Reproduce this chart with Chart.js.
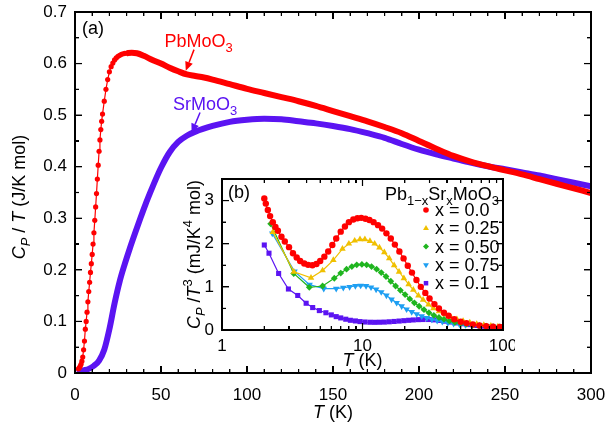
<!DOCTYPE html>
<html>
<head>
<meta charset="utf-8">
<script src="https://cdn.jsdelivr.net/npm/chart.js@4.4.0/dist/chart.umd.min.js"></script>
<style>
  html, body { margin: 0; padding: 0; background: #fff; }
  #wrap { position: relative; width: 608px; height: 430px; }
  #mainChart { position: absolute; left: 0; top: 0; }
  #insetChart { position: absolute; left: 160px; top: 170px; }
  .fr { position: absolute; background: #000; pointer-events: none; }
</style>
</head>
<body>
<div id="wrap">
  <canvas id="mainChart" width="608" height="430"></canvas>
  <canvas id="insetChart" width="355" height="200"></canvas>
</div>
<script>
// ---- main panel (a): Cp/T vs T ----
const pbLowT  = [2, 2.5, 3, 3.5, 4, 4.5, 5, 5.5, 6, 6.5, 7, 7.5, 8, 8.5, 9, 9.5, 10, 10.5, 11, 11.5, 12, 12.5, 13, 13.5, 14, 14.5, 15, 15.5, 16, 17, 18, 19, 20, 21, 22, 23, 24, 25, 26, 27, 28, 29, 30];
const pbLowCp = [0.008, 0.010, 0.013, 0.017, 0.023, 0.031, 0.045, 0.062, 0.085, 0.100, 0.118, 0.138, 0.158, 0.176, 0.195, 0.212, 0.230, 0.250, 0.272, 0.296, 0.322, 0.348, 0.376, 0.403, 0.430, 0.452, 0.472, 0.488, 0.502, 0.527, 0.550, 0.569, 0.584, 0.594, 0.601, 0.607, 0.611, 0.614, 0.616, 0.618, 0.619, 0.620, 0.620];
const pbHighT  = [30, 33, 36, 40, 45, 50, 55, 60, 65, 70, 75, 80, 90, 100, 110, 120, 130, 140, 150, 160, 170, 180, 190, 200, 210, 220, 230, 240, 250, 260, 270, 280, 290, 300];
const pbHighCp = [0.620, 0.621, 0.620, 0.615, 0.607, 0.600, 0.592, 0.585, 0.579, 0.576, 0.573, 0.569, 0.560, 0.551, 0.543, 0.535, 0.527, 0.518, 0.508, 0.498, 0.488, 0.477, 0.465, 0.450, 0.435, 0.421, 0.410, 0.401, 0.393, 0.385, 0.376, 0.367, 0.358, 0.349];
const srT  = [1, 3, 5, 8, 11, 14, 17, 20, 23, 26, 29, 32, 35, 38, 41, 44, 47, 50, 55, 60, 65, 70, 80, 90, 100, 110, 120, 130, 140, 150, 160, 170, 180, 190, 200, 210, 220, 230, 240, 250, 260, 270, 280, 290, 300];
const srCp = [0.002, 0.003, 0.005, 0.008, 0.014, 0.024, 0.045, 0.085, 0.135, 0.178, 0.212, 0.243, 0.272, 0.300, 0.327, 0.352, 0.376, 0.398, 0.428, 0.448, 0.460, 0.468, 0.479, 0.487, 0.491, 0.493, 0.492, 0.488, 0.484, 0.479, 0.473, 0.465, 0.456, 0.444, 0.433, 0.424, 0.416, 0.408, 0.401, 0.395, 0.389, 0.383, 0.376, 0.369, 0.362];
const mainXTicks = [0, 50, 100, 150, 200, 250, 300];
const mainYTicks = [0, 0.1, 0.2, 0.3, 0.4, 0.5, 0.6, 0.7];

// ---- inset (b): Cp/T^3 vs T (log) ----
const x00T = [2.0, 2.05, 2.12, 2.2, 2.3, 2.4, 2.5, 2.65, 2.8, 3.0, 3.2, 3.4, 3.6, 3.85, 4.1, 4.4, 4.7, 5.0, 5.35, 5.7, 6.1, 6.5, 7.0, 7.5, 8.0, 8.6, 9.2, 9.8, 10.5, 11.2, 12.0, 12.9, 13.8, 14.8, 15.9, 17.0, 18.3, 19.6, 21, 22.5, 24.2, 26, 28, 30, 32.5, 35, 38, 41, 45, 50, 55, 61, 68, 76, 85, 95, 100];
const x00C = [3.05, 2.93, 2.78, 2.64, 2.50, 2.39, 2.30, 2.16, 2.05, 1.92, 1.78, 1.68, 1.60, 1.54, 1.51, 1.50, 1.53, 1.60, 1.70, 1.82, 1.97, 2.12, 2.28, 2.40, 2.50, 2.56, 2.59, 2.60, 2.58, 2.55, 2.50, 2.43, 2.35, 2.24, 2.12, 1.98, 1.82, 1.66, 1.49, 1.33, 1.16, 1.00, 0.86, 0.73, 0.60, 0.50, 0.40, 0.33, 0.25, 0.19, 0.16, 0.13, 0.105, 0.09, 0.078, 0.07, 0.065];
const x025T = [2.3, 3.25, 4.3, 5.2, 6.2, 7.2, 8.0, 8.8, 9.6, 10.4, 11.3, 12.2, 13.2, 14.3, 15.5, 16.8, 18.2, 19.7, 21.3, 23, 25, 27, 29.5, 32, 35, 38.5, 42.5, 47, 52, 58, 65, 73, 82, 92, 100];
const x025C = [2.27, 1.35, 1.21, 1.38, 1.62, 1.88, 2.00, 2.07, 2.10, 2.10, 2.06, 2.00, 1.91, 1.80, 1.66, 1.50, 1.35, 1.20, 1.06, 0.93, 0.80, 0.70, 0.59, 0.50, 0.43, 0.36, 0.30, 0.25, 0.21, 0.17, 0.14, 0.115, 0.095, 0.08, 0.07];
const x050T = [2.22, 3.24, 4.18, 5.2, 6.3, 7.0, 7.7, 8.4, 9.1, 9.9, 10.7, 11.6, 12.6, 13.6, 14.7, 15.9, 17.2, 18.6, 20.1, 21.7, 23.4, 25.3, 27.4, 29.7, 32.2, 35, 38, 41.5, 45.5, 50, 55, 61, 68, 76, 85, 95, 100];
const x050C = [2.46, 1.31, 0.99, 1.02, 1.20, 1.32, 1.41, 1.47, 1.51, 1.52, 1.51, 1.47, 1.41, 1.33, 1.24, 1.13, 1.02, 0.92, 0.82, 0.72, 0.63, 0.55, 0.47, 0.40, 0.34, 0.29, 0.25, 0.21, 0.18, 0.155, 0.135, 0.115, 0.10, 0.09, 0.08, 0.072, 0.07];
const x075T = [2.28, 3.28, 4.2, 5.3, 6.5, 7.3, 8.1, 8.9, 9.7, 10.6, 11.5, 12.5, 13.6, 14.8, 16.1, 17.5, 19, 20.6, 22.4, 24.3, 26.4, 28.7, 31.2, 34, 37, 40.5, 44.5, 49, 54, 60, 67, 75, 84, 94, 100];
const x075C = [2.24, 1.36, 1.05, 0.96, 0.96, 0.98, 1.00, 1.02, 1.03, 1.02, 0.99, 0.94, 0.88, 0.80, 0.71, 0.63, 0.55, 0.48, 0.42, 0.37, 0.32, 0.28, 0.245, 0.215, 0.19, 0.165, 0.145, 0.13, 0.115, 0.10, 0.09, 0.082, 0.075, 0.07, 0.068];
const x10T = [2.0, 2.16, 2.53, 2.97, 3.46, 3.97, 4.42, 4.93, 5.49, 6.0, 6.5, 7.0, 7.6, 8.2, 8.9, 9.6, 10.4, 11.3, 12.2, 13.2, 14.3, 15.5, 16.8, 18.2, 19.7, 21.3, 23, 25, 27, 29.5, 32, 35, 38.5, 42.5, 47, 52, 58, 65, 73, 82, 92, 100];
const x10C = [1.97, 1.78, 1.31, 0.95, 0.80, 0.62, 0.52, 0.45, 0.40, 0.35, 0.31, 0.28, 0.25, 0.225, 0.21, 0.195, 0.185, 0.18, 0.178, 0.18, 0.183, 0.19, 0.198, 0.207, 0.216, 0.225, 0.233, 0.24, 0.243, 0.243, 0.235, 0.222, 0.205, 0.185, 0.165, 0.145, 0.125, 0.105, 0.088, 0.072, 0.06, 0.052];
const insetLabels = ['x = 0.0', 'x = 0.25', 'x = 0.50', 'x = 0.75', 'x = 0.1'];
const insetXTicks = [1, 10, 100];
const insetYTicks = [0, 1, 2, 3];

const FONT = '"Liberation Sans", Arial, sans-serif';
const RED = '#ff0000', BLUE = '#5b14f2';
Chart.defaults.font.family = FONT;
Chart.defaults.color = '#000';

function pts(xs, ys) { return xs.map((x, i) => ({x: x, y: ys[i]})); }

function setFont(ctx, size, italic) {
  ctx.font = (italic ? 'italic ' : '') + size + 'px ' + FONT;
}

// text with italic / subscript / superscript pieces
function drawRich(ctx, parts, x, y, opt) {
  const size = opt.size || 17;
  ctx.save();
  ctx.translate(x, y);
  if (opt.rotate) ctx.rotate(-Math.PI / 2);
  ctx.fillStyle = opt.color || '#000';
  ctx.textBaseline = 'alphabetic';
  ctx.textAlign = 'left';
  const items = parts.map(([t, s]) => {
    const small = s.includes('sub') || s.includes('sup');
    const sz = small ? size * 0.72 : size;
    setFont(ctx, sz, s.includes('i'));
    return {t, s, sz, w: ctx.measureText(t).width,
      dy: s.includes('sub') ? size * 0.3 : s.includes('sup') ? -size * 0.42 : 0};
  });
  const total = items.reduce((acc, it) => acc + it.w, 0);
  let cx = opt.align === 'center' ? -total / 2 : opt.align === 'right' ? -total : 0;
  items.forEach(it => {
    setFont(ctx, it.sz, it.s.includes('i'));
    ctx.fillText(it.t, cx, it.dy);
    cx += it.w;
  });
  ctx.restore();
}

// box + inward ticks on all four sides, placed from the chart's own scales
function boxTicks(chart, xt, yt) {
  const ctx = chart.ctx, ca = chart.chartArea, sx = chart.scales.x, sy = chart.scales.y;
  const L = ca.left, R = ca.right, Tp = ca.top, B = ca.bottom;
  ctx.save();
  ctx.fillStyle = '#000';
  xt.forEach(([v, len]) => {
    const p = sx.getPixelForValue(v);
    ctx.fillRect(p - 0.6, B - len, 1.2, len);
    ctx.fillRect(p - 0.6, Tp, 1.2, len);
  });
  yt.forEach(([v, len]) => {
    const p = sy.getPixelForValue(v);
    ctx.fillRect(L, p - 0.6, len, 1.2);
    ctx.fillRect(R - len, p - 0.6, len, 1.2);
  });
  ctx.fillRect(L - 0.75, Tp - 0.75, R - L + 1.5, 1.5);
  ctx.fillRect(L - 0.75, B - 0.75, R - L + 1.5, 1.5);
  ctx.fillRect(L - 0.75, Tp - 0.75, 1.5, B - Tp + 1.5);
  ctx.fillRect(R - 0.75, Tp - 0.75, 1.5, B - Tp + 1.5);
  ctx.restore();
}

// same frame as page elements over the canvas
function domFrame(chart, offX, offY, xt, yt) {
  const wrap = document.getElementById('wrap');
  const ca = chart.chartArea, sx = chart.scales.x, sy = chart.scales.y;
  const add = (l, t, w, h) => {
    const d = document.createElement('div');
    d.className = 'fr';
    d.style.left = l + 'px'; d.style.top = t + 'px';
    d.style.width = w + 'px'; d.style.height = h + 'px';
    wrap.appendChild(d);
  };
  const L = offX + ca.left, R = offX + ca.right, Tp = offY + ca.top, B = offY + ca.bottom;
  add(L - 0.75, Tp - 0.75, R - L + 1.5, 1.5);
  add(L - 0.75, B - 0.75, R - L + 1.5, 1.5);
  add(L - 0.75, Tp - 0.75, 1.5, B - Tp + 1.5);
  add(R - 0.75, Tp - 0.75, 1.5, B - Tp + 1.5);
  xt.forEach(([v, len]) => {
    const p = offX + sx.getPixelForValue(v);
    add(p - 0.6, B - len, 1.2, len);
    add(p - 0.6, Tp, 1.2, len);
  });
  yt.forEach(([v, len]) => {
    const p = offY + sy.getPixelForValue(v);
    add(L, p - 0.6, len, 1.2);
    add(R - len, p - 0.6, len, 1.2);
  });
}

function arrow(ctx, x1, y1, x2, y2, color) {
  const ang = Math.atan2(y2 - y1, x2 - x1), L = 9, W = 4;
  ctx.save();
  ctx.strokeStyle = color; ctx.fillStyle = color; ctx.lineWidth = 1.5;
  ctx.beginPath();
  ctx.moveTo(x1, y1);
  ctx.lineTo(x2 - L * Math.cos(ang), y2 - L * Math.sin(ang));
  ctx.stroke();
  ctx.beginPath();
  ctx.moveTo(x2, y2);
  ctx.lineTo(x2 - L * Math.cos(ang) + W * Math.sin(ang), y2 - L * Math.sin(ang) - W * Math.cos(ang));
  ctx.lineTo(x2 - L * Math.cos(ang) - W * Math.sin(ang), y2 - L * Math.sin(ang) + W * Math.cos(ang));
  ctx.closePath();
  ctx.fill();
  ctx.restore();
}

// fixed box sizes so the plot area sits where the reference has it
function fixBox(size, horizontal) {
  return s => {
    if (horizontal) s.height = size; else s.width = size;
    s.paddingTop = 0; s.paddingBottom = 0; s.paddingLeft = 0; s.paddingRight = 0;
  };
}

function mainTickList() {
  const xt = [], yt = [];
  for (let v = 0; v <= 300; v += 10) xt.push([v, v % 50 === 0 ? 7 : 4]);
  for (let i = 0; i <= 14; i++) yt.push([i * 0.05, i % 2 === 0 ? 7 : 4]);
  return [xt, yt];
}
function insetTickList() {
  const xt = [], yt = [];
  [1, 10].forEach(d => { for (let k = 1; k <= 9; k++) xt.push([d * k, k === 1 ? 7 : 4]); });
  xt.push([100, 7]);
  for (let i = 0; i <= 7; i++) yt.push([i * 0.5, i % 2 === 0 ? 7 : 4]);
  return [xt, yt];
}

const mainDecor = {
  id: 'mainDecor',
  afterDraw(chart) {
    const ctx = chart.ctx, a = chart.chartArea, x = chart.scales.x, y = chart.scales.y;
    drawRich(ctx, [['C', 'i'], ['P', 'isub'], [' / ', ''], ['T', 'i'], [' (J/K mol)', '']], 25, 197, {rotate: true, align: 'center', size: 18});
    drawRich(ctx, [['T', 'i'], [' (K)', '']], (a.left + a.right) / 2, 418, {align: 'center', size: 18});
    drawRich(ctx, [['(a)', '']], a.left + 7, a.top + 22, {size: 18});
    drawRich(ctx, [['PbMoO', ''], ['3', 'sub']], x.getPixelForValue(52), y.getPixelForValue(0.633), {size: 18, color: RED});
    arrow(ctx, x.getPixelForValue(69.2), y.getPixelForValue(0.627), x.getPixelForValue(64.4), y.getPixelForValue(0.586), RED);
    drawRich(ctx, [['SrMoO', ''], ['3', 'sub']], x.getPixelForValue(57), y.getPixelForValue(0.510), {size: 18, color: BLUE});
    arrow(ctx, x.getPixelForValue(72.7), y.getPixelForValue(0.505), x.getPixelForValue(67.8), y.getPixelForValue(0.466), BLUE);
    const [xt, yt] = mainTickList();
    boxTicks(chart, xt, yt);
  }
};

const mainChart = new Chart(document.getElementById('mainChart'), {
  type: 'line',
  data: {
    datasets: [
      {data: pts(pbLowT, pbLowCp), borderColor: RED, backgroundColor: RED, borderWidth: 1.2,
       pointRadius: 2.6, pointBorderWidth: 0},
      {data: pts(pbHighT, pbHighCp), borderColor: RED, borderWidth: 6, pointRadius: 0,
       cubicInterpolationMode: 'monotone'},
      {data: pts(srT, srCp), borderColor: BLUE, borderWidth: 6, pointRadius: 0,
       cubicInterpolationMode: 'monotone'}
    ]
  },
  options: {
    responsive: false,
    animation: false,
    layout: {padding: {left: 0, right: 17, top: 12, bottom: 0}},
    plugins: {legend: {display: false}, tooltip: {enabled: false}},
    scales: {
      x: {
        type: 'linear', min: 0, max: 300,
        afterBuildTicks: s => { s.ticks = mainXTicks.map(v => ({value: v})); },
        afterFit: fixBox(57, true),
        grid: {display: false, drawTicks: false}, border: {display: false},
        ticks: {font: {size: 17}, color: '#000', padding: 12, maxRotation: 0, autoSkip: false}
      },
      y: {
        type: 'linear', min: 0, max: 0.7,
        afterBuildTicks: s => { s.ticks = mainYTicks.map(v => ({value: v})); },
        afterFit: fixBox(75, false),
        grid: {display: false, drawTicks: false}, border: {display: false},
        ticks: {font: {size: 17}, color: '#000', padding: 8,
                callback: v => v === 0 ? '0' : v.toFixed(1)}
      }
    }
  },
  plugins: [mainDecor]
});

// ---- inset ----
const insetColors = [RED, '#f0c000', '#1fb51f', '#1e9ff2', BLUE];
const insetStyles = [
  {pointStyle: 'circle', radius: 3.2, rotation: 0},
  {pointStyle: 'triangle', radius: 3.8, rotation: 0},
  {pointStyle: 'rectRot', radius: 3.4, rotation: 0},
  {pointStyle: 'triangle', radius: 3.8, rotation: 180},
  {pointStyle: 'rect', radius: 3.6, rotation: 0}
];
const insetSeries = [[x00T, x00C], [x025T, x025C], [x050T, x050C], [x075T, x075C], [x10T, x10C]];

const insetDecor = {
  id: 'insetDecor',
  afterDraw(chart) {
    const ctx = chart.ctx, a = chart.chartArea;
    drawRich(ctx, [['C', 'i'], ['P', 'isub'], [' /', ''], ['T', 'i'], ['3', 'sup'], [' (mJ/K', ''], ['4', 'sup'], [' mol)', '']],
      40, (a.top + a.bottom) / 2, {rotate: true, align: 'center', size: 18});
    drawRich(ctx, [['T', 'i'], [' (K)', '']], (a.left + a.right) / 2, 196, {align: 'center', size: 18});
    drawRich(ctx, [['(b)', '']], a.left + 6, a.top + 19, {size: 18});
    drawRich(ctx, [['Pb', ''], ['1\u2212x', 'sub'], ['Sr', ''], ['x', 'sub'], ['MoO', ''], ['3', 'sub']],
      a.right - 4, a.top + 21, {align: 'right', size: 18});
    const mx = a.right - 77, tx = a.right - 68;
    insetLabels.forEach((lab, i) => {
      const yy = a.top + 31 + i * 18.3;
      ctx.save();
      ctx.fillStyle = insetColors[i];
      ctx.strokeStyle = insetColors[i];
      Chart.helpers.drawPoint(ctx, {pointStyle: insetStyles[i].pointStyle, radius: insetStyles[i].radius - 0.4,
        rotation: insetStyles[i].rotation, borderWidth: 0}, mx, yy);
      ctx.restore();
      drawRich(ctx, [[lab, '']], tx, yy + 6, {size: 18});
    });
    const [xt, yt] = insetTickList();
    boxTicks(chart, xt, yt);
  }
};

const insetChart = new Chart(document.getElementById('insetChart'), {
  type: 'line',
  data: {
    datasets: insetSeries.map(([t, c], i) => ({
      data: pts(t, c),
      borderColor: insetColors[i], backgroundColor: insetColors[i],
      borderWidth: 1.2, pointRadius: insetStyles[i].radius, pointStyle: insetStyles[i].pointStyle,
      pointRotation: insetStyles[i].rotation, pointBorderWidth: 0
    }))
  },
  options: {
    responsive: false,
    animation: false,
    layout: {padding: {left: 0, right: 12, top: 9, bottom: 0}},
    plugins: {legend: {display: false}, tooltip: {enabled: false}},
    scales: {
      x: {
        type: 'logarithmic', min: 1, max: 100,
        afterBuildTicks: s => { s.ticks = insetXTicks.map(v => ({value: v})); },
        afterFit: fixBox(40, true),
        grid: {display: false, drawTicks: false}, border: {display: false},
        ticks: {font: {size: 17}, color: '#000', padding: 6, maxRotation: 0, autoSkip: false,
                callback: v => String(v)}
      },
      y: {
        type: 'linear', min: 0, max: 3.5,
        afterBuildTicks: s => { s.ticks = insetYTicks.map(v => ({value: v})); },
        afterFit: fixBox(62, false),
        grid: {display: false, drawTicks: false}, border: {display: false},
        ticks: {font: {size: 17}, color: '#000', padding: 8, callback: v => String(v)}
      }
    }
  },
  plugins: [insetDecor]
});

domFrame(mainChart, 0, 0, ...mainTickList());
domFrame(insetChart, 160, 170, ...insetTickList());
</script>
</body>
</html>
